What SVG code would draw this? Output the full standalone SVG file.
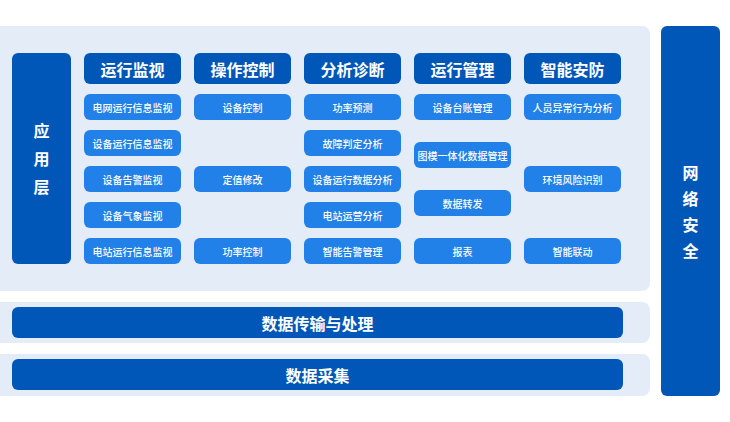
<svg xmlns="http://www.w3.org/2000/svg" width="730" height="422" viewBox="0 0 730 422">
<style>
text{font-family:"Noto Sans CJK SC","Noto Sans",sans-serif;fill:#fff;text-anchor:middle;dominant-baseline:central}
.panel{fill:#E4ECF7}
.dark{fill:#0057B8}
.item{fill:#2181E8}
.h{font-size:16px;font-weight:700}
.i{font-size:10px;font-weight:500}
.v{font-size:16px;font-weight:700}
</style>
<rect width="730" height="422" fill="#fff"/>
<g id="app-layer">
<rect class="panel" x="-10" y="26" width="660" height="265" rx="8"/>
<g id="app-label">
<rect class="dark" x="12" y="53" width="59" height="211" rx="6"/>
<text class="v" x="41.5" y="130">应</text>
<text class="v" x="41.5" y="158">用</text>
<text class="v" x="41.5" y="186">层</text>
</g>
<g id="col-monitor">
<rect class="dark" x="84" y="53" width="97" height="31" rx="6"/>
<text class="h" x="132.5" y="68.5">运行监视</text>
<rect class="item" x="84" y="94" width="97" height="26" rx="6"/><text class="i" x="132.5" y="107">电网运行信息监视</text>
<rect class="item" x="84" y="130" width="97" height="26" rx="6"/><text class="i" x="132.5" y="143">设备运行信息监视</text>
<rect class="item" x="84" y="166" width="97" height="26" rx="6"/><text class="i" x="132.5" y="179">设备告警监视</text>
<rect class="item" x="84" y="202" width="97" height="26" rx="6"/><text class="i" x="132.5" y="215">设备气象监视</text>
<rect class="item" x="84" y="238" width="97" height="26" rx="6"/><text class="i" x="132.5" y="251">电站运行信息监视</text>
</g>
<g id="col-control">
<rect class="dark" x="194" y="53" width="97" height="31" rx="6"/>
<text class="h" x="242.5" y="68.5">操作控制</text>
<rect class="item" x="194" y="94" width="97" height="26" rx="6"/><text class="i" x="242.5" y="107">设备控制</text>
<rect class="item" x="194" y="166" width="97" height="26" rx="6"/><text class="i" x="242.5" y="179">定值修改</text>
<rect class="item" x="194" y="238" width="97" height="26" rx="6"/><text class="i" x="242.5" y="251">功率控制</text>
</g>
<g id="col-analysis">
<rect class="dark" x="304" y="53" width="97" height="31" rx="6"/>
<text class="h" x="352.5" y="68.5">分析诊断</text>
<rect class="item" x="304" y="94" width="97" height="26" rx="6"/><text class="i" x="352.5" y="107">功率预测</text>
<rect class="item" x="304" y="130" width="97" height="26" rx="6"/><text class="i" x="352.5" y="143">故障判定分析</text>
<rect class="item" x="304" y="166" width="97" height="26" rx="6"/><text class="i" x="352.5" y="179">设备运行数据分析</text>
<rect class="item" x="304" y="202" width="97" height="26" rx="6"/><text class="i" x="352.5" y="215">电站运营分析</text>
<rect class="item" x="304" y="238" width="97" height="26" rx="6"/><text class="i" x="352.5" y="251">智能告警管理</text>
</g>
<g id="col-management">
<rect class="dark" x="414" y="53" width="97" height="31" rx="6"/>
<text class="h" x="462.5" y="68.5">运行管理</text>
<rect class="item" x="414" y="94" width="97" height="26" rx="6"/><text class="i" x="462.5" y="107">设备台账管理</text>
<rect class="item" x="414" y="142" width="97" height="26" rx="6"/><text class="i" x="462.5" y="155">图模一体化数据管理</text>
<rect class="item" x="414" y="190" width="97" height="26" rx="6"/><text class="i" x="462.5" y="203">数据转发</text>
<rect class="item" x="414" y="238" width="97" height="26" rx="6"/><text class="i" x="462.5" y="251">报表</text>
</g>
<g id="col-security">
<rect class="dark" x="524" y="53" width="97" height="31" rx="6"/>
<text class="h" x="572.5" y="68.5">智能安防</text>
<rect class="item" x="524" y="94" width="97" height="26" rx="6"/><text class="i" x="572.5" y="107">人员异常行为分析</text>
<rect class="item" x="524" y="166" width="97" height="26" rx="6"/><text class="i" x="572.5" y="179">环境风险识别</text>
<rect class="item" x="524" y="238" width="97" height="26" rx="6"/><text class="i" x="572.5" y="251">智能联动</text>
</g>
</g>
<g id="transport-layer">
<rect class="panel" x="-10" y="302" width="660" height="41" rx="8"/>
<rect class="dark" x="12" y="307" width="611" height="31" rx="6"/>
<text class="h" x="317.5" y="322.5">数据传输与处理</text>
</g>
<g id="collection-layer">
<rect class="panel" x="-10" y="354" width="660" height="42" rx="8"/>
<rect class="dark" x="12" y="359" width="611" height="31" rx="6"/>
<text class="h" x="317.5" y="374.5">数据采集</text>
</g>
<g id="network-security">
<rect class="dark" x="661" y="26" width="59" height="370" rx="6"/>
<text class="v" x="690.5" y="172">网</text>
<text class="v" x="690.5" y="198">络</text>
<text class="v" x="690.5" y="224">安</text>
<text class="v" x="690.5" y="250">全</text>
</g>
<g id="connectors"/>
</svg>
